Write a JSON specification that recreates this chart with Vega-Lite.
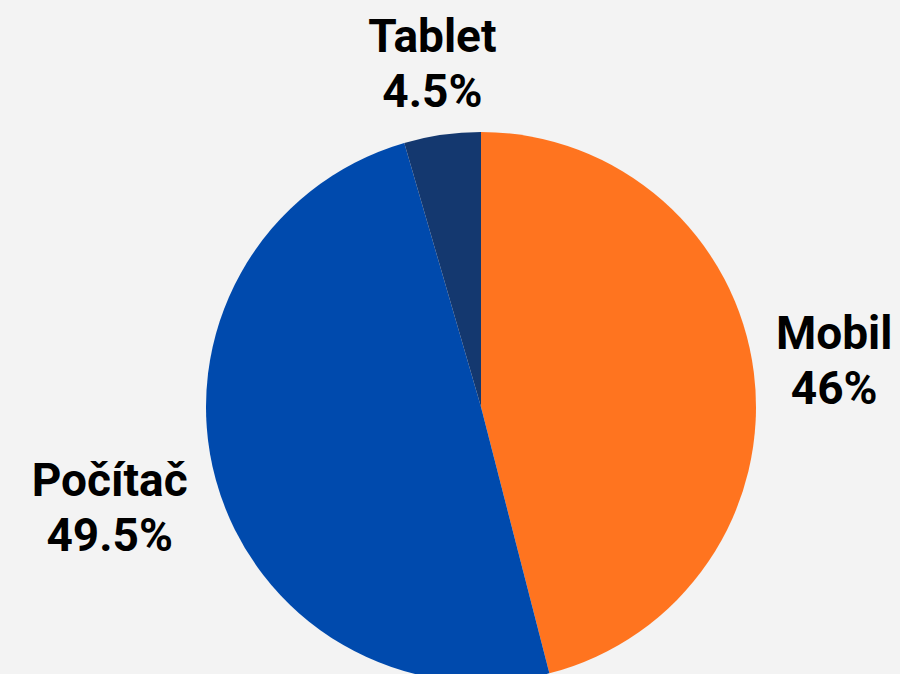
{
  "$schema": "https://vega.github.io/schema/vega-lite/v6.json",
  "width": 838,
  "height": 534,
  "autosize": {"type": "none"},
  "padding": {"left": 62, "top": 140, "right": 0, "bottom": 0},
  "background": "#f3f3f3",
  "view": {"stroke": null},
  "config": {"font": "Roboto"},
  "data": {
    "values": [
      {"device": "Mobil", "share": 46, "order": 1},
      {"device": "Počítač", "share": 49.5, "order": 2},
      {"device": "Tablet", "share": 4.5, "order": 3}
    ]
  },
  "transform": [
    {"stack": "share", "groupby": [], "sort": [{"field": "order", "order": "ascending"}], "as": ["s0", "s1"]},
    {"calculate": "(datum.s0 + datum.s1) / 2", "as": "mid"},
    {"calculate": "datum.device + '\\n' + datum.share + '%'", "as": "label"}
  ],
  "layer": [
    {
      "mark": {"type": "arc", "radius": 275},
      "encoding": {
        "theta": {"field": "s0", "type": "quantitative", "scale": {"domain": [0, 100]}},
        "theta2": {"field": "s1"},
        "color": {
          "field": "device",
          "type": "nominal",
          "scale": {"domain": ["Mobil", "Počítač", "Tablet"], "range": ["#ff741f", "#004aad", "#14386f"]},
          "legend": null
        }
      }
    },
    {
      "transform": [{"filter": "datum.device == 'Tablet'"}],
      "mark": {"type": "text", "radius": 345, "dy": -27, "fontSize": 46, "fontWeight": "bold", "lineBreak": "\n", "lineHeight": 55, "baseline": "middle", "align": "center", "color": "#000000"},
      "encoding": {
        "theta": {"field": "mid", "type": "quantitative", "scale": {"domain": [0, 100]}},
        "text": {"field": "label"}
      }
    },
    {
      "transform": [{"filter": "datum.device == 'Mobil'"}],
      "mark": {"type": "text", "radius": 356, "dy": -27, "fontSize": 46, "fontWeight": "bold", "lineBreak": "\n", "lineHeight": 55, "baseline": "middle", "align": "center", "color": "#000000"},
      "encoding": {
        "theta": {"field": "mid", "type": "quantitative", "scale": {"domain": [0, 100]}},
        "text": {"field": "label"}
      }
    },
    {
      "transform": [{"filter": "datum.device == 'Počítač'"}],
      "mark": {"type": "text", "radius": 385, "dy": -27, "fontSize": 46, "fontWeight": "bold", "lineBreak": "\n", "lineHeight": 55, "baseline": "middle", "align": "center", "color": "#000000"},
      "encoding": {
        "theta": {"field": "mid", "type": "quantitative", "scale": {"domain": [0, 100]}},
        "text": {"field": "label"}
      }
    }
  ]
}
